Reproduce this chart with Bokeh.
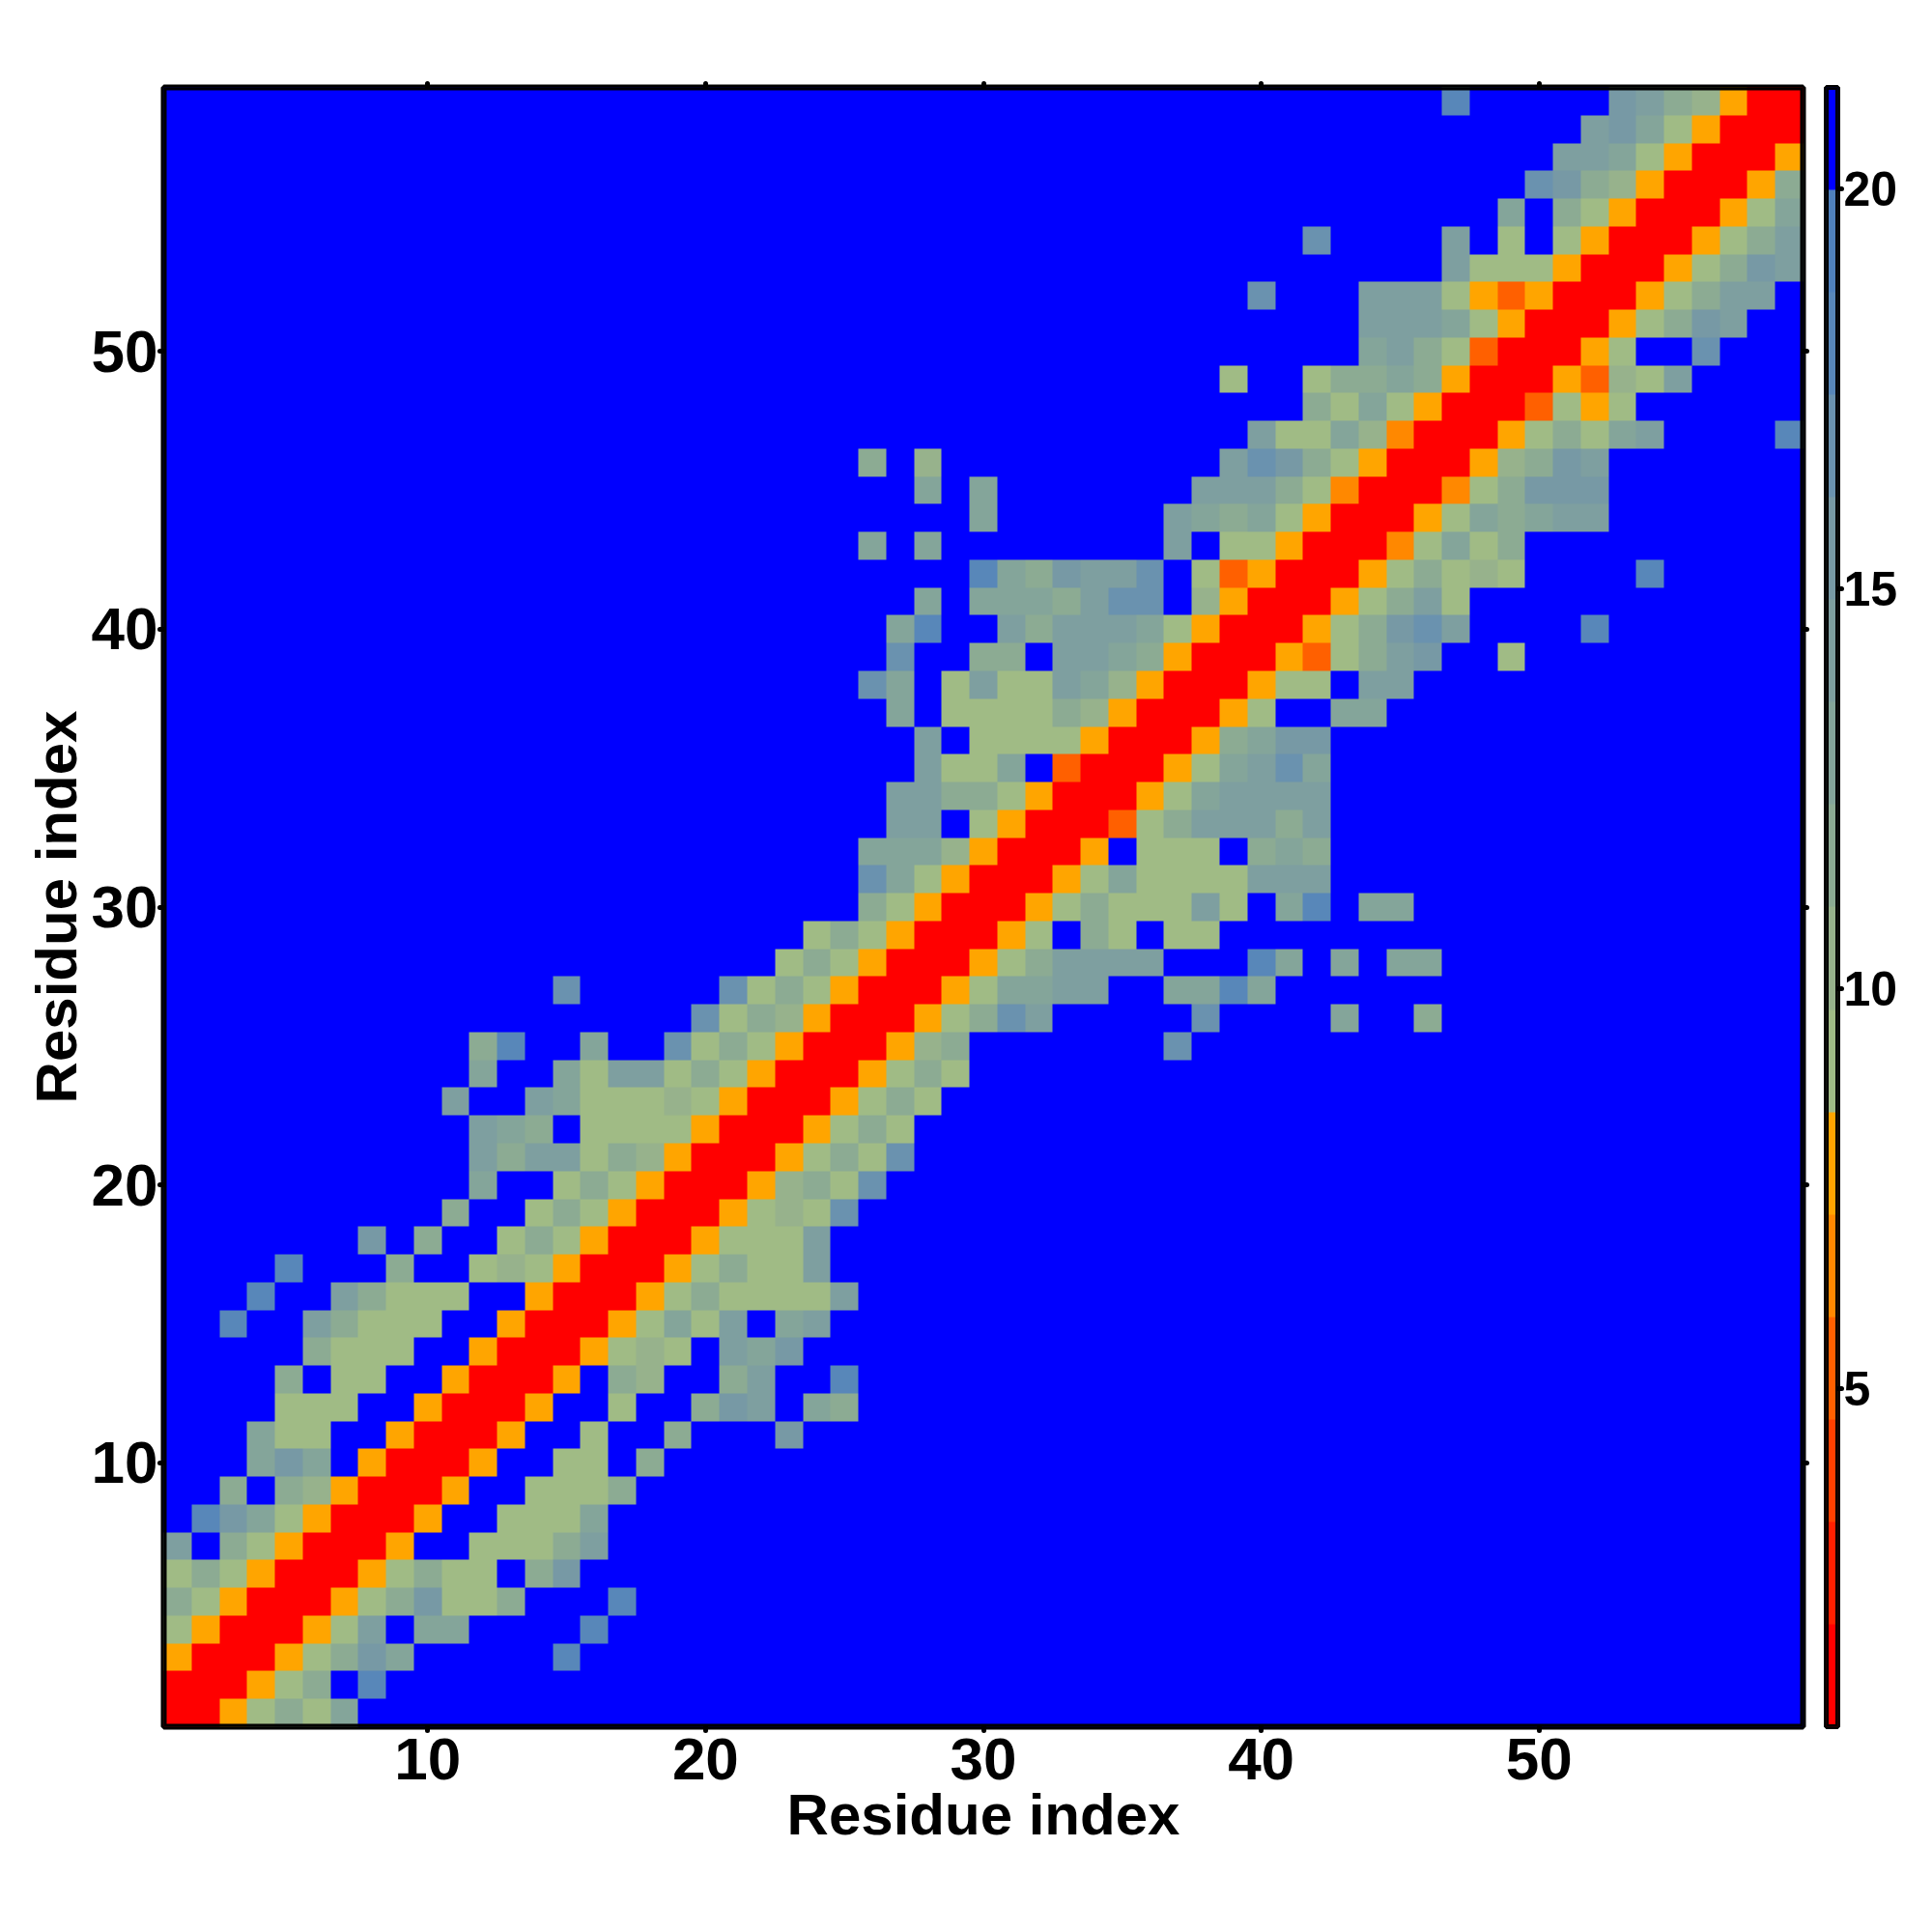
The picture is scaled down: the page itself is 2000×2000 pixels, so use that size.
from bokeh.embed import file_html
from bokeh.layouts import row
from bokeh.models import BoxAnnotation, FixedTicker, LinearAxis, LinearColorMapper, Range1d
from bokeh.plotting import figure
from bokeh.resources import INLINE
import numpy as np

# distance class of each cell, per residue row (1..59)
row_first = [1,1,1,1,1,1,1,1,1,1,1,1,1,1,1,1,1,1,11,12,12,12,11,12,12,20,15,23,24,26,26,26,27,27,28,28,27,26,27,27,
             28,30,26,30,28,26,40,42,39,44,44,40,47,42,49,50,51,52,47]
row_cells = [
"RROacad","RRROacBh","ORRROacfdBBBBBh","aORRROaeBddBBBBh","caORRROacfaacBBBh","acaORRROacaaBcf",
"eBcaORRROBBaaace","BhfdaORRROBBaaad","BBcBcbORRROBBaaac","BBBdfdBORRROBBaaBc",
"BBBdaaBBORRROBBaBBcBBBf","BBBBaaaBBORRROBBaBBcfeBdc","BBBBcBaaBBORRROBcbBBceBBh",
"BBBBBcaaaBBORRROabaBedf","BBhBBecaaaBBORRROadaeBde","BBBhBBecaaaBBORRROacaaaae",
"BBBBhBBBcBBabaORRROacaae","BBBBBBBfBcBBacaORRROaaae","cBBacaORRROabag","dBBacaORRRObcag",
"eceeacbORRROacag","edcBaaaaORRROaca","eBBedaaabaORRROaca","dBBdaeeacaORRROaca",
"chBBdBBgacaORRRObcBBBBBBBg","gacbORRROacgeBBBBBgBBBBdBBc","gBBBBBgacaORRROaddeeBBddhd",
"acaORRROaceeeeBBBhdBdBdd","acaORRROaBcaBaa","caORRROacaaaeaBdhBdd","gdaORRROadaaaaeee",
"dddbORRROBaaaBcdc","eeBaORRRPaceeece","eeccaORRROadeeee","eaadBPRRROadegd","eBaaaaORRROcdff",
"dBaaaacbORRROaBBdd","gdBaeaaedbORRROaaBee","gBBccBeedcORRROPacefBBa","dhBBeceeedaORRROacfgeBBBBh",
"dBdddceggBbORRROacea","hdcfeegBaPORRROacabaBBBBh","dBdBBBBBBBBeBaaORRRDadac",
"dBBBBBBedcdaORRROadcdee","dBdBBBBBBBeeecaDRRRDacfff","cBb" "BBBBBBBBBB" "egfcaORRRObcfe",
"eaadbDRRROacadeBBBBh","cadaORRRPaOa","aBBaccdcORRROPbae","decaPRRROaBBg","eeedaORRROacfe",
"gBBBeeeaOPORRROacee","eaaaORRROacfe","gBBBBeBaBaORRROace","dBcaORRROad","gfcbORRROc",
"eedaORRRO","efdaORRR","hBBBBBfecbORR",
]
class_value = {"R":1.4,"P":5.2,"D":6.5,"O":7.8,"a":9.1,"b":10.4,"c":11.7,"d":13.0,"e":14.2,
               "f":15.5,"g":16.8,"h":18.1,"i":19.4,"B":20.6}
palette = ["#ff0000","#ff2000","#ff4000","#ff6000","#ff8800","#ffa500",
           "#a0bb85","#97b28c","#8cab93","#84a59a","#7e9fa0","#7799a5","#6a92af","#5887b9","#4f81bd","#0000ff"]
low, high = 0.77, 21.27
ticks_main = [10,20,30,40,50]
ticks_bar = [5,10,15,20]
axis_title = "Residue index"
n = 59

m = np.full((n,n), class_value["B"])
for j,(first,cells) in enumerate(zip(row_first,row_cells)):
    for k,c in enumerate(cells):
        m[j,first-1+k] = class_value[c]

mapper = LinearColorMapper(palette=palette, low=low, high=high)
FONT = "Liberation Sans"

def style_axis(ax, size, standoff=2):
    ax.axis_line_color=None
    ax.major_tick_line_color="black"; ax.major_tick_line_width=5; ax.major_tick_line_cap="round"
    ax.major_tick_in=0; ax.major_tick_out=4
    ax.minor_tick_line_color=None
    ax.major_label_text_font=FONT; ax.major_label_text_font_style="bold"
    ax.major_label_text_font_size=size
    ax.major_label_text_color="black"
    ax.major_label_standoff=standoff

p = figure(width=1880,height=1920,x_range=Range1d(0.5,59.5),y_range=Range1d(0.5,59.5),
           output_backend="svg",toolbar_location=None,min_border_left=169,min_border_right=14,
           min_border_top=90,min_border_bottom=133,x_axis_location="below",y_axis_location="left")
p.grid.visible=False
p.outline_line_color="black"; p.outline_line_width=6
p.image(image=[m],x=0.5,y=0.5,dw=59,dh=59,color_mapper=mapper)
p.add_layout(BoxAnnotation(left=0.5,right=59.5,bottom=0.5,top=59.5,fill_alpha=0,fill_color=None,
                           line_color="black",line_width=6,line_alpha=1,level="overlay"))
for ax,so in ((p.xaxis[0],8),(p.yaxis[0],2)):
    ax.ticker=FixedTicker(ticks=ticks_main)
    style_axis(ax,"62px",so)
    ax.axis_label=axis_title
    ax.axis_label_text_font=FONT; ax.axis_label_text_font_style="bold"
    ax.axis_label_text_font_size="60px"; ax.axis_label_text_color="black"
    ax.axis_label_standoff=0
for side in ("above","right"):
    ax=LinearAxis(ticker=FixedTicker(ticks=ticks_main),major_label_overrides={t:"" for t in ticks_main})
    style_axis(ax,"12px")
    p.add_layout(ax,side)

cb = figure(width=110,height=1920,x_range=Range1d(0,1),y_range=Range1d(low,high),
            output_backend="svg",toolbar_location=None,min_border_left=10,min_border_right=88,
            min_border_top=90,min_border_bottom=133,x_axis_location=None,y_axis_location="right")
cb.grid.visible=False
cb.outline_line_color="black"; cb.outline_line_width=5
levels=np.linspace(low,high,len(palette)+1)
mid=(levels[:-1]+levels[1:])/2
cb.image(image=[mid.reshape(-1,1)],x=0,y=low,dw=1,dh=high-low,color_mapper=mapper)
cb.add_layout(BoxAnnotation(left=0,right=1,bottom=low,top=high,fill_alpha=0,fill_color=None,
                            line_color="black",line_width=5,line_alpha=1,level="overlay"))
for ax in cb.yaxis:
    ax.ticker=FixedTicker(ticks=ticks_bar)
    style_axis(ax,"50px")

layout=row(p,cb,spacing=0)
open("out.html","w").write(file_html(layout,INLINE))
